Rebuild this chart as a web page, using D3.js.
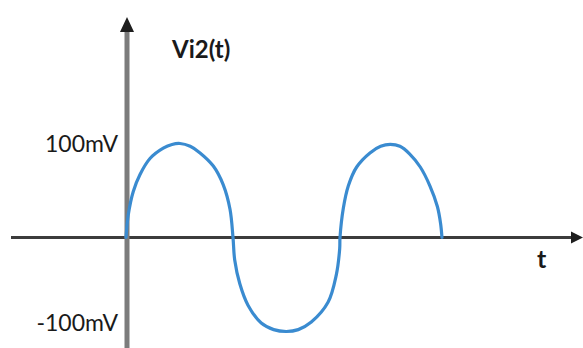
<!DOCTYPE html>
<html>
<head>
<meta charset="utf-8">
<script src="https://cdn.jsdelivr.net/npm/d3@7"></script>
<style>
  html, body { margin: 0; padding: 0; background: #fff; }
  svg { display: block; }
  text { font-family: Lato, "Open Sans", sans-serif; fill: #1a1a1a; }
</style>
</head>
<body>
<svg id="chart" width="583" height="348"></svg>
<script>
// Input signal vi2(t): sampled time (arbitrary units) and voltage (mV)
const times = [
  0, 0.021, 0.068, 0.131, 0.224, 0.348, 0.43, 0.505, 0.6, 0.692, 0.816, 0.909, 0.972, 1.0,
  1.016, 1.063, 1.14, 1.264, 1.38, 1.498, 1.61, 1.732, 1.888, 1.965, 1.997, 2.0,
  2.031, 2.078, 2.156, 2.28, 2.38, 2.47, 2.56, 2.65, 2.75, 2.84, 2.91, 2.94, 2.953
];
const voltages = [
  0, 24, 49, 67, 84, 95, 99, 100, 97, 90, 76, 56, 30, 0,
  -24, -49, -72, -91, -98, -100, -98, -90, -69, -40, -12, 0,
  31, 55, 75, 90, 97, 99, 97, 89, 75, 55, 33, 15, 0
];
const yTickValues = [100, -100];
const yTickLabels = ["100mV", "-100mV"];
const signalLabel = "Vi2(t)";
const timeLabel = "t";

const svg = d3.select("#chart");

const x = d3.scaleLinear().domain([0, 3]).range([126, 447]);
const y = d3.scaleLinear().domain([-100, 100]).range([331.5, 143.5]);

const originX = x(0);
const originY = y(0);

// Horizontal (time) axis with arrowhead
svg.append("line")
  .attr("x1", 11).attr("x2", 574)
  .attr("y1", originY).attr("y2", originY)
  .attr("stroke", "#3c3c3c").attr("stroke-width", 3);
svg.append("path")
  .attr("d", `M583,${originY} L571,${originY - 6} L571,${originY + 6} Z`)
  .attr("fill", "#1e1e1e");

// Vertical (voltage) axis with arrowhead
svg.append("line")
  .attr("x1", originX + 1).attr("x2", originX + 1)
  .attr("y1", 28).attr("y2", 348)
  .attr("stroke", "#7c7c7c").attr("stroke-width", 5);
svg.append("path")
  .attr("d", `M${originX + 1},17 L${originX - 6},32 L${originX + 8},32 Z`)
  .attr("fill", "#1e1e1e");

// Signal curve
const pts = times.map((t, i) => [t, voltages[i]]);
const line = d3.line()
  .x(d => x(d[0]))
  .y(d => y(d[1]))
  .curve(d3.curveCatmullRom.alpha(0.5));

svg.append("path")
  .datum(pts)
  .attr("d", line)
  .attr("fill", "none")
  .attr("stroke", "#3a8bd0")
  .attr("stroke-width", 3.2)
  .attr("stroke-linecap", "round");

// Voltage labels
svg.selectAll("text.ytick")
  .data(yTickValues)
  .join("text")
  .attr("class", "ytick")
  .attr("x", 118)
  .attr("y", (d, i) => i === 0 ? y(d) + 8 : y(d) - 1)
  .attr("text-anchor", "end")
  .attr("font-size", 23)
  .text((d, i) => yTickLabels[i]);

// Signal and time labels
svg.append("text")
  .attr("x", 172).attr("y", 58)
  .attr("font-size", 24).attr("font-weight", "bold")
  .text(signalLabel);

svg.append("text")
  .attr("x", 537).attr("y", 268)
  .attr("font-size", 25).attr("font-weight", "bold")
  .text(timeLabel);
</script>
</body>
</html>
